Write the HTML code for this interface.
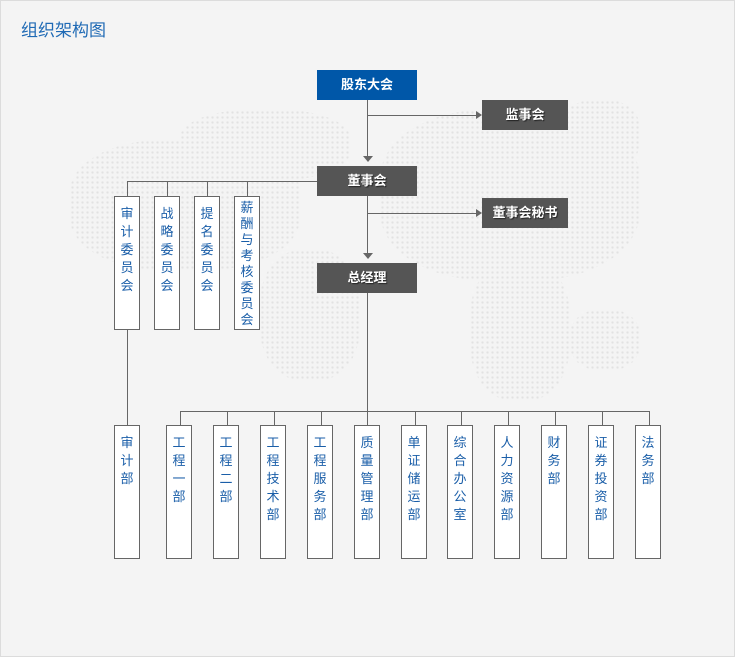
<!DOCTYPE html>
<html><head><meta charset="utf-8"><style>
body{margin:0;width:735px;height:657px;overflow:hidden;background:#fff;}
#w{position:absolute;left:0;top:0;width:735px;height:657px;box-shadow:inset 0 0 0 1px #dcdcdc;background:#f4f4f4;font-family:"Liberation Sans","Noto Sans CJK SC",sans-serif;}
.t{position:absolute;left:21px;top:16px;font-size:17px;color:#1f6ab5;}
.h{position:absolute;height:30px;line-height:30px;text-align:center;color:#fff;font-size:13px;font-weight:bold;background:#555;text-shadow:1px 1px 1px #222;}
.v{position:absolute;width:24px;border:1px solid #666;background:#fff;color:#1a5ea8;font-size:13px;line-height:18px;text-align:center;padding-top:8px;box-sizing:content-box;}
.l{position:absolute;background:#666;}
.dots{position:absolute;background-image:radial-gradient(circle,#e2e2e2 1px,transparent 1.3px);background-size:5px 5px;border-radius:40%;}
</style></head><body><div id="w">
<div class="t">组织架构图</div>
<div class="dots" style="left:70px;top:140px;width:230px;height:130px"></div>
<div class="dots" style="left:180px;top:110px;width:170px;height:70px"></div>
<div class="dots" style="left:260px;top:250px;width:100px;height:130px"></div>
<div class="dots" style="left:380px;top:110px;width:260px;height:170px"></div>
<div class="dots" style="left:470px;top:260px;width:100px;height:140px"></div>
<div class="dots" style="left:560px;top:100px;width:80px;height:70px"></div>
<div class="dots" style="left:570px;top:310px;width:70px;height:60px"></div>

<div class="h" style="left:317px;top:70px;width:100px;background:#0057a8;text-shadow:none">股东大会</div>
<div class="h" style="left:482px;top:100px;width:86px;">监事会</div>
<div class="h" style="left:317px;top:166px;width:100px;">董事会</div>
<div class="h" style="left:482px;top:198px;width:86px;">董事会秘书</div>
<div class="h" style="left:317px;top:263px;width:100px;">总经理</div>

<div class="l" style="left:367px;top:100px;width:1px;height:58px"></div>
<div style="position:absolute;left:363px;top:156px;border-left:5px solid transparent;border-right:5px solid transparent;border-top:6px solid #666"></div>
<div class="l" style="left:368px;top:115px;width:108px;height:1px"></div>
<div style="position:absolute;left:476px;top:111px;border-top:4px solid transparent;border-bottom:4px solid transparent;border-left:6px solid #666"></div>
<div class="l" style="left:367px;top:196px;width:1px;height:58px"></div>
<div style="position:absolute;left:363px;top:253px;border-left:5px solid transparent;border-right:5px solid transparent;border-top:6px solid #666"></div>
<div class="l" style="left:368px;top:213px;width:108px;height:1px"></div>
<div style="position:absolute;left:476px;top:209px;border-top:4px solid transparent;border-bottom:4px solid transparent;border-left:6px solid #666"></div>
<div class="l" style="left:127px;top:181px;width:190px;height:1px"></div>
<div class="l" style="left:127px;top:181px;width:1px;height:15px"></div>
<div class="l" style="left:167px;top:181px;width:1px;height:15px"></div>
<div class="l" style="left:207px;top:181px;width:1px;height:15px"></div>
<div class="l" style="left:247px;top:181px;width:1px;height:15px"></div>
<div class="l" style="left:127px;top:330px;width:1px;height:96px"></div>
<div class="l" style="left:367px;top:293px;width:1px;height:133px"></div>
<div class="l" style="left:180px;top:411px;width:470px;height:1px"></div>

<div class="v" style="left:114px;top:196px;height:124px">审<br>计<br>委<br>员<br>会</div>
<div class="v" style="left:154px;top:196px;height:124px">战<br>略<br>委<br>员<br>会</div>
<div class="v" style="left:194px;top:196px;height:124px">提<br>名<br>委<br>员<br>会</div>
<div class="v" style="left:234px;top:196px;padding-top:3px;height:129px;line-height:16px">薪<br>酬<br>与<br>考<br>核<br>委<br>员<br>会</div>

<div class="v" style="left:114px;top:425px;height:124px">审<br>计<br>部</div>
<div class="l" style="left:180px;top:411px;width:1px;height:15px"></div><div class="v" style="left:166px;top:425px;height:124px">工<br>程<br>一<br>部</div>
<div class="l" style="left:227px;top:411px;width:1px;height:15px"></div><div class="v" style="left:213px;top:425px;height:124px">工<br>程<br>二<br>部</div>
<div class="l" style="left:274px;top:411px;width:1px;height:15px"></div><div class="v" style="left:260px;top:425px;height:124px">工<br>程<br>技<br>术<br>部</div>
<div class="l" style="left:321px;top:411px;width:1px;height:15px"></div><div class="v" style="left:307px;top:425px;height:124px">工<br>程<br>服<br>务<br>部</div>
<div class="v" style="left:354px;top:425px;height:124px">质<br>量<br>管<br>理<br>部</div>
<div class="l" style="left:415px;top:411px;width:1px;height:15px"></div><div class="v" style="left:401px;top:425px;height:124px">单<br>证<br>储<br>运<br>部</div>
<div class="l" style="left:461px;top:411px;width:1px;height:15px"></div><div class="v" style="left:447px;top:425px;height:124px">综<br>合<br>办<br>公<br>室</div>
<div class="l" style="left:508px;top:411px;width:1px;height:15px"></div><div class="v" style="left:494px;top:425px;height:124px">人<br>力<br>资<br>源<br>部</div>
<div class="l" style="left:555px;top:411px;width:1px;height:15px"></div><div class="v" style="left:541px;top:425px;height:124px">财<br>务<br>部</div>
<div class="l" style="left:602px;top:411px;width:1px;height:15px"></div><div class="v" style="left:588px;top:425px;height:124px">证<br>券<br>投<br>资<br>部</div>
<div class="l" style="left:649px;top:411px;width:1px;height:15px"></div><div class="v" style="left:635px;top:425px;height:124px">法<br>务<br>部</div>
</div></body></html>
